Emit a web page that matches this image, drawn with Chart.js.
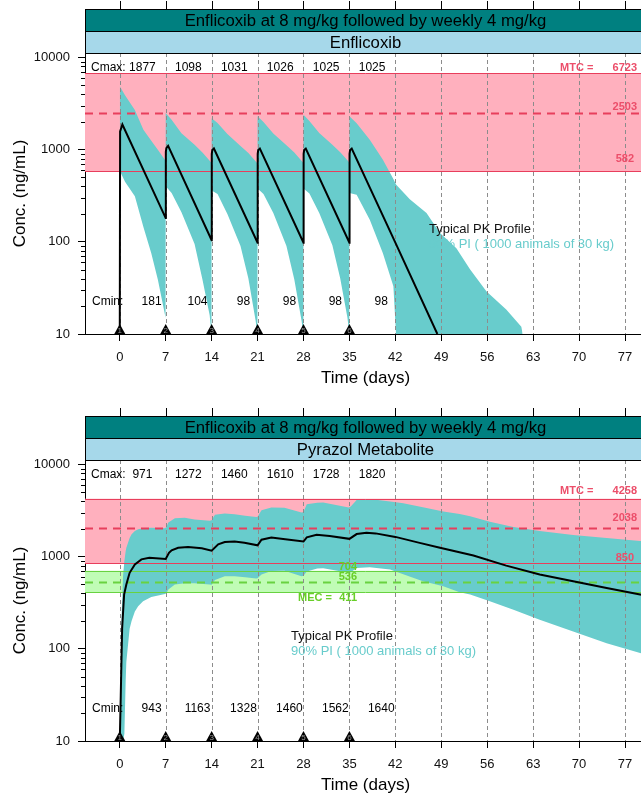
<!DOCTYPE html>
<html>
<head>
<meta charset="utf-8">
<script src="https://cdn.jsdelivr.net/npm/chart.js@4.4.0/dist/chart.umd.min.js"></script>
<style>
  html, body { margin: 0; padding: 0; background: #fff; overflow: hidden; }
  .panel { position: absolute; left: 0; width: 650px; height: 400px; }
  #p1 { top: 0; }
  #p2 { top: 407px; }
</style>
</head>
<body>
<div class="panel" id="p1"><canvas id="enfChart" width="650" height="400"></canvas></div>
<div class="panel" id="p2"><canvas id="pyrChart" width="650" height="400"></canvas></div>
<script>
// weekly dosing, days
const doseDays = [0, 7, 14, 21, 28, 35];
const timeTicks = [0, 7, 14, 21, 28, 35, 42, 49, 56, 63, 70, 77];
const concTicks = [10, 100, 1000, 10000];

// --- Enflicoxib ---
const enfCmax = [1877, 1098, 1031, 1026, 1025, 1025];
const enfCmin = [181, 104, 98, 98, 98, 98];
const enfLimits = [6723, 2503, 582];   // MTC, median, lower bound
const enfTypicalT = [0, 0.05, 0.4, 7, 7.02, 7.1, 7.37, 14, 14.02, 14.1, 14.35, 21, 21.02, 21.1, 21.35,
  28, 28.02, 28.1, 28.35, 35, 35.02, 35.1, 35.35, 42, 48.4];
const enfTypicalC = [10, 1578, 1877, 181, 950, 1040, 1098, 104, 900, 990, 1031, 98, 900, 990, 1026,
  98, 900, 990, 1025, 98, 900, 990, 1025, 98, 10];
const enfBandT = [0, 0.8, 2.3, 3.6, 4.8, 5.8, 6.98,
  7, 7.9, 9.4, 11.4, 12.6, 13.7, 13.98,
  14, 14.9, 16.4, 18.4, 19.6, 20.7, 20.98,
  21, 21.9, 23.4, 25.4, 26.6, 27.7, 27.98,
  28, 28.9, 30.4, 32.4, 33.6, 34.7, 34.98,
  35, 36.1, 38.1, 40.1, 41.7, 42.1, 44.2, 46.75, 48.8, 51.3, 53.4, 55.9, 58.9, 61.2, 61.4];
const enfBandHi = [4870, 3900, 2700, 1650, 1250, 1000, 760,
  2500, 2110, 1510, 1130, 930, 760, 716,
  2200, 1950, 1480, 1100, 920, 750, 710,
  2300, 2000, 1500, 1120, 930, 760, 716,
  2390, 2050, 1520, 1130, 940, 770, 720,
  2300, 1940, 1280, 776, 480, 420, 290, 205, 125, 85, 50, 29, 18.4, 12, 10];
const enfBandLo = [590, 450, 312, 145, 75, 39, 15,
  400, 338, 210, 95, 39, 16, 10,
  360, 330, 200, 90, 40, 14, 10,
  380, 330, 205, 90, 39, 14, 10,
  380, 335, 205, 92, 40, 15, 10,
  338, 324, 174, 75, 33, 10, 10, 10, 10, 10, 10, 10, 10, 10, 10];

// --- Pyrazol metabolite ---
const pyrCmax = [971, 1272, 1460, 1610, 1728, 1820];
const pyrCmin = [943, 1163, 1328, 1460, 1562, 1640];
const pyrLimits = [4258, 2038, 850];
const pyrMec = [704, 536, 411];
const pyrTypicalT = [0, 0.15, 0.36, 0.66, 1.0, 1.5, 2.3, 3.3, 4.5, 7.0, 7.5, 7.9, 8.9, 10.4, 12.5, 14.0,
  15.0, 16.0, 17.5, 19.0, 21.0, 21.6, 23.1, 24.9, 28.0, 28.5, 30.0, 32.0, 35.0, 36.1, 37.6, 39.0,
  42.0, 45.7, 48.8, 53.9, 58.9, 64.0, 69.1, 74.2, 79.3, 80.2];
const pyrTypicalC = [10, 31, 168, 388, 499, 668, 824, 935, 971, 943, 1100, 1175, 1250, 1272, 1232, 1163,
  1360, 1440, 1460, 1413, 1328, 1530, 1610, 1560, 1460, 1620, 1728, 1680, 1562, 1760, 1820, 1790,
  1640, 1413, 1250, 1030, 800, 641, 542, 458, 388, 378];
const pyrBandT = [0, 0.1, 0.3, 0.5, 0.7, 0.9, 1.0, 1.5, 1.8, 2.3, 2.8, 3.55, 4.8, 6.9, 7.1, 7.4, 8.4, 9.9,
  11.4, 13.7, 14.0, 14.5, 16.0, 17.5, 19.1, 20.8, 21.0, 21.6, 23.1, 25.1, 27.7, 28.0, 28.5, 30.1, 31.0,
  34.9, 35.2, 36.1, 38.1, 41.2, 43.2, 46.2, 49.3, 51.8, 53.4, 56.4, 60.0, 64.0, 69.1, 74.2, 79.3, 80.2];
const pyrBandHi = [10, 15, 250, 620, 900, 1150, 1250, 1600, 1750, 1900, 1990, 2040, 2066, 2040, 2100, 2345,
  2615, 2650, 2540, 2450, 2480, 2844, 2940, 2880, 2775, 2700, 2720, 3200, 3410, 3400, 3020, 3050, 3715,
  3860, 3870, 3410, 3500, 4110, 4240, 3980, 3800, 3450, 3100, 2900, 2750, 2400, 2100, 1900, 1720, 1600,
  1480, 1460];
const pyrBandLo = [10, 10, 10, 10, 12, 45, 72, 165, 200, 255, 290, 328, 365, 394, 400, 440, 499, 515,
  515, 499, 495, 560, 612, 615, 600, 580, 585, 640, 700, 705, 615, 620, 690, 745, 750, 668, 680, 755,
  770, 725, 645, 542, 478, 411, 390, 328, 265, 207, 154, 115, 90, 87];

const FONT = '"Liberation Sans", Arial, sans-serif';
const TEAL = 'rgb(104,204,204)';
const PINK = 'rgb(255,176,190)';
const RED = 'rgb(232,62,92)';
const RED_TEXT = 'rgb(236,78,106)';
const GREEN_FILL = 'rgb(192,252,182)';
const GREEN = 'rgb(104,210,64)';
const GREEN_TEXT = 'rgb(104,206,40)';

const toPoints = (t, c) => t.map((v, i) => ({ x: v, y: c[i] }));

const makeDecor = cfg => ({
  id: 'pkDecor',
  beforeDatasetsDraw(chart) {
    const { ctx, chartArea: a, scales: { y } } = chart;
    ctx.save();
    const band = (hi, lo, color) => {
      const t = y.getPixelForValue(hi), b = y.getPixelForValue(lo);
      ctx.fillStyle = color;
      ctx.fillRect(a.left, t, a.right - a.left, b - t);
    };
    band(cfg.limits[0], cfg.limits[2], PINK);
    if (cfg.mec) band(cfg.mec[0], cfg.mec[2], GREEN_FILL);
    ctx.restore();
  },
  afterDatasetDraw(chart, args) {
    // runs once the PI band is filled, before the typical profile goes on top
    if (args.index !== 1) return;
    const { ctx, chartArea: a, scales: { x, y } } = chart;
    ctx.save();
    ctx.strokeStyle = 'rgb(140,140,140)';
    ctx.lineWidth = 1;
    ctx.setLineDash([4, 3]);
    timeTicks.forEach(t => {
      const px = Math.round(x.getPixelForValue(t)) + 0.5;
      ctx.beginPath(); ctx.moveTo(px, a.top); ctx.lineTo(px, a.bottom); ctx.stroke();
    });
    const hline = (v, color, dashed) => {
      const py = Math.round(y.getPixelForValue(v)) + 0.5;
      ctx.strokeStyle = color;
      ctx.lineWidth = dashed ? 2 : 1;
      ctx.setLineDash(dashed ? [8, 6] : []);
      ctx.beginPath(); ctx.moveTo(a.left, py); ctx.lineTo(a.right, py); ctx.stroke();
    };
    hline(cfg.limits[0], RED, false);
    hline(cfg.limits[1], RED, true);
    hline(cfg.limits[2], RED, false);
    if (cfg.mec) {
      hline(cfg.mec[0], GREEN, false);
      hline(cfg.mec[1], GREEN, true);
      hline(cfg.mec[2], GREEN, false);
    }
    ctx.restore();
  },
  afterDatasetsDraw(chart) {
    const { ctx, scales: { y } } = chart;
    ctx.save();
    ctx.textBaseline = 'middle';
    ctx.font = `bold 11px ${FONT}`;
    ctx.fillStyle = RED_TEXT;
    const [mtc, mid, low] = cfg.limits;
    ctx.textAlign = 'left';
    ctx.fillText('MTC =', 560, y.getPixelForValue(mtc) + cfg.redDy[0]);
    ctx.textAlign = 'right';
    ctx.fillText(String(mtc), 637, y.getPixelForValue(mtc) + cfg.redDy[0]);
    ctx.fillText(String(mid), 637, y.getPixelForValue(mid) + cfg.redDy[1]);
    ctx.fillText(String(low), 634, y.getPixelForValue(low) + cfg.redDy[2]);
    if (cfg.mec) {
      ctx.fillStyle = GREEN_TEXT;
      ctx.fillText(String(cfg.mec[0]), 357, y.getPixelForValue(cfg.mec[0]) - 4);
      ctx.fillText(String(cfg.mec[1]), 357, y.getPixelForValue(cfg.mec[1]) - 5);
      ctx.fillText(String(cfg.mec[2]), 357, y.getPixelForValue(cfg.mec[2]) + 6);
      ctx.textAlign = 'left';
      ctx.fillText('MEC =', 298, y.getPixelForValue(cfg.mec[2]) + 6);
    }
    // legend
    ctx.textAlign = 'left';
    ctx.font = `13px ${FONT}`;
    ctx.fillStyle = '#111';
    ctx.fillText('Typical PK Profile', cfg.legendX, 229);
    ctx.fillStyle = TEAL;
    ctx.fillText('90% PI ( 1000 animals of 30 kg)', cfg.legendX, 244);
    ctx.restore();
  },
  afterDraw(chart) {
    const { ctx, chartArea: a, scales: { x, y } } = chart;
    ctx.save();
    // strip headers
    const sTop = a.top - 44;
    ctx.lineWidth = 1;
    ctx.strokeStyle = '#000';
    ctx.fillStyle = 'rgb(0,128,128)';
    ctx.fillRect(a.left, sTop, a.right - a.left, 22);
    ctx.fillStyle = 'rgb(166,216,234)';
    ctx.fillRect(a.left, sTop + 22, a.right - a.left, 22);
    ctx.strokeRect(a.left + 0.5, sTop + 0.5, a.right - a.left, 22);
    ctx.strokeRect(a.left + 0.5, sTop + 22.5, a.right - a.left, 22);
    ctx.fillStyle = '#000';
    ctx.font = `16.7px ${FONT}`;
    ctx.textAlign = 'center';
    ctx.textBaseline = 'middle';
    const cx = (a.left + a.right) / 2;
    ctx.fillText('Enflicoxib at 8 mg/kg followed by weekly 4 mg/kg', cx, sTop + 12);
    ctx.fillText(cfg.strip, cx, sTop + 34);
    // ticks above the strips
    timeTicks.forEach(t => {
      const px = Math.round(x.getPixelForValue(t)) + 0.5;
      ctx.beginPath(); ctx.moveTo(px, sTop - 8); ctx.lineTo(px, sTop); ctx.stroke();
    });
    // minor log ticks
    [10, 100, 1000].forEach(d => [2, 3, 4, 5, 6, 7, 8, 9].forEach(m => {
      const py = Math.round(y.getPixelForValue(d * m)) + 0.5;
      ctx.beginPath(); ctx.moveTo(a.left - 4, py); ctx.lineTo(a.left, py); ctx.stroke();
    }));
    // Cmax / Cmin per dosing interval
    ctx.font = `12px ${FONT}`;
    ctx.textAlign = 'left';
    ctx.fillText('Cmax:', 91, a.top + 15);
    ctx.fillText('Cmin:', 92, a.bottom - 32);
    ctx.textAlign = 'center';
    doseDays.forEach((d, i) => {
      ctx.fillText(String(cfg.cmax[i]), x.getPixelForValue(d + 3.45), a.top + 15);
      ctx.fillText(String(cfg.cmin[i]), x.getPixelForValue(d + 4.85), a.bottom - 32);
    });
    // dose markers
    doseDays.forEach((d, i) => {
      const px = x.getPixelForValue(d);
      ctx.fillStyle = '#000';
      ctx.beginPath();
      ctx.moveTo(px - 5.5, a.bottom); ctx.lineTo(px + 5.5, a.bottom); ctx.lineTo(px, a.bottom - 10);
      ctx.closePath(); ctx.fill();
      ctx.fillStyle = 'rgb(150,150,150)';
      ctx.font = `8px ${FONT}`;
      ctx.fillText(String(i + 1), px, a.bottom - 3);
    });
    // axis titles
    ctx.fillStyle = '#000';
    ctx.font = `17px ${FONT}`;
    ctx.fillText('Time (days)', cx, 378);
    ctx.translate(20, (a.top + a.bottom) / 2);
    ctx.rotate(-Math.PI / 2);
    ctx.fillText('Conc. (ng/mL)', 0, 0);
    ctx.restore();
  }
});

const pkPanel = (canvasId, cfg) => new Chart(document.getElementById(canvasId), {
  type: 'line',
  data: {
    datasets: [
      { data: toPoints(cfg.typT, cfg.typC), borderColor: '#000', borderWidth: 2, fill: false },
      { data: toPoints(cfg.bandT, cfg.bandHi), borderColor: 'rgba(0,0,0,0)', borderWidth: 0, backgroundColor: TEAL, fill: '+1' },
      { data: toPoints(cfg.bandT, cfg.bandLo), borderColor: 'rgba(0,0,0,0)', borderWidth: 0, fill: false }
    ]
  },
  options: {
    responsive: false,
    animation: false,
    events: [],
    layout: { padding: { top: 53, right: 4, left: 0, bottom: 0 } },
    plugins: { legend: { display: false }, tooltip: { enabled: false } },
    elements: { line: { tension: 0 }, point: { radius: 0 } },
    scales: {
      x: {
        type: 'linear', min: -5.3, max: 80.2,
        afterBuildTicks: s => { s.ticks = timeTicks.map(v => ({ value: v })); },
        afterFit: s => { s.height = 66; },
        grid: { drawOnChartArea: false, tickLength: 7, color: '#000' },
        border: { color: '#000' },
        ticks: { font: { family: FONT, size: 13 }, color: '#111', padding: 9, maxRotation: 0, autoSkip: false }
      },
      y: {
        type: 'logarithmic', min: 10, max: 11200,
        afterBuildTicks: s => { s.ticks = concTicks.map(v => ({ value: v })); },
        afterFit: s => { s.width = 85; },
        grid: { drawOnChartArea: false, tickLength: 7, color: '#000' },
        border: { color: '#000' },
        ticks: { font: { family: FONT, size: 13 }, color: '#111', padding: 8, callback: v => String(v) }
      }
    }
  },
  plugins: [makeDecor(cfg)]
});

pkPanel('enfChart', {
  strip: 'Enflicoxib',
  typT: enfTypicalT, typC: enfTypicalC,
  bandT: enfBandT, bandHi: enfBandHi, bandLo: enfBandLo,
  cmax: enfCmax, cmin: enfCmin,
  limits: enfLimits, redDy: [-5, -6, -12],
  legendX: 429
});

pkPanel('pyrChart', {
  strip: 'Pyrazol Metabolite',
  typT: pyrTypicalT, typC: pyrTypicalC,
  bandT: pyrBandT, bandHi: pyrBandHi, bandLo: pyrBandLo,
  cmax: pyrCmax, cmin: pyrCmin,
  limits: pyrLimits, mec: pyrMec, redDy: [-8, -10, -5],
  legendX: 291
});
</script>
</body>
</html>
